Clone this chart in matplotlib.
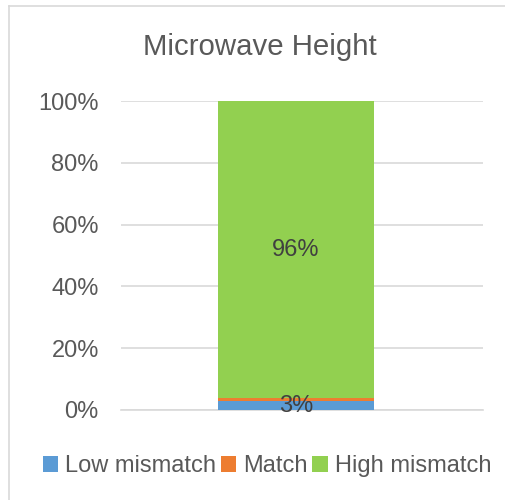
import matplotlib
matplotlib.use("Agg")
import matplotlib.pyplot as plt
from matplotlib.patches import Patch
from matplotlib.lines import Line2D

categories = ["Microwave Height"]
series_names = ["Low mismatch", "Match", "High mismatch"]
low_mismatch = [3]
match = [1]
high_mismatch = [96]
labels = {"Low mismatch": "3%", "High mismatch": "96%"}
yticks = [0, 20, 40, 60, 80, 100]
ytick_labels = ["0%", "20%", "40%", "60%", "80%", "100%"]

colors = ["#5B9BD5", "#ED7D31", "#92D050"]
text_color = "#595959"

plt.rcParams['font.family'] = ['Liberation Sans', 'DejaVu Sans']

fig = plt.figure(figsize=(5.06, 5.00), dpi=100)
ax = fig.add_axes([121/506, 1-410/500, (483-121)/506, (410-101)/500])

# figure border (only top/left visible in the crop)
bx, by = 8.5/506, 1 - 5.5/500
fig.add_artist(Line2D([bx, bx], [0, by], transform=fig.transFigure, color="#D9D9D9", linewidth=1.2))
fig.add_artist(Line2D([bx, 1], [by, by], transform=fig.transFigure, color="#D9D9D9", linewidth=1.2))

x = list(range(len(categories)))
bottom = [0]*len(categories)
series = [low_mismatch, match, high_mismatch]
for name, vals, c in zip(series_names, series, colors):
    ax.bar(x, vals, width=0.431, bottom=bottom, color=c, zorder=3)
    if name in labels:
        for xi, v, bt in zip(x, vals, bottom):
            ax.text(xi, bt + v/2 - 0.3, labels[name], ha="center", va="center",
                    fontsize=17, color="#404040", zorder=4)
    bottom = [bt + v for bt, v in zip(bottom, vals)]

ax.set_xlim(-0.4834, 0.5166)
ax.set_ylim(0, 100)
ax.set_yticks(yticks)
ax.set_yticklabels(ytick_labels, fontsize=17, color=text_color)
ax.set_xticks([])
ax.tick_params(axis="y", length=0, pad=16)
ax.grid(axis="y", color="#D9D9D9", linewidth=1.2, zorder=0)
for s in ["top", "right", "left"]:
    ax.spines[s].set_visible(False)
ax.spines["bottom"].set_color("#D9D9D9")
ax.spines["bottom"].set_linewidth(1.2)

fig.text(260/506, 1-47/500, categories[0], ha="center", va="center", fontsize=21.2, color=text_color)

handles = [Patch(facecolor=c, edgecolor="none") for c in colors]
fig.legend(handles, series_names, loc="center", bbox_to_anchor=(267/506, 1-466/500), ncol=3,
           frameon=False, fontsize=17, handlelength=0.65, handleheight=0.65,
           handletextpad=0.3, columnspacing=0.2, labelcolor=text_color)

fig.savefig("out.png", dpi=100)
